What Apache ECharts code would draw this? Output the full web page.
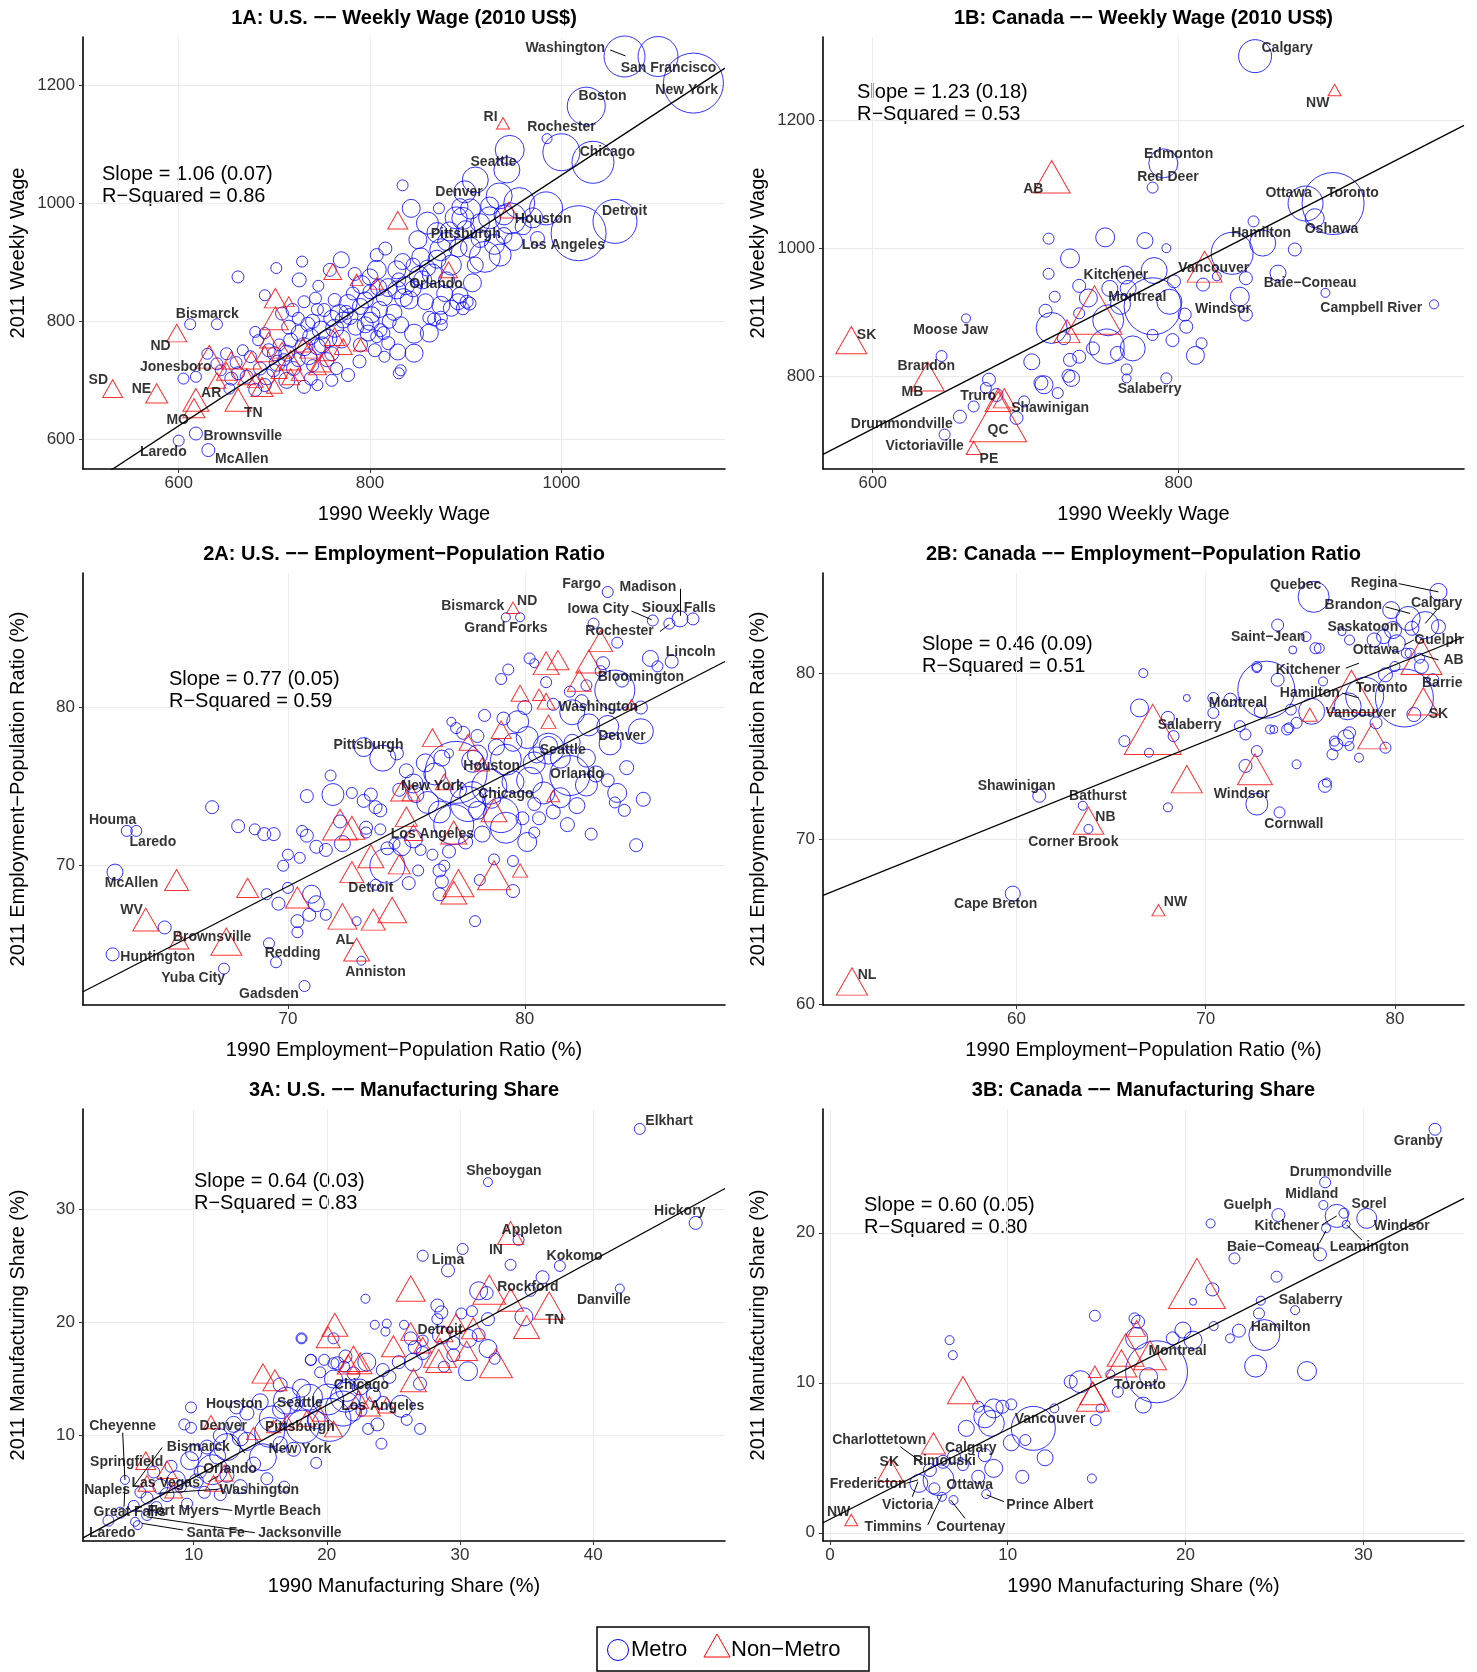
<!DOCTYPE html>
<html><head><meta charset="utf-8">
<script src="https://cdn.jsdelivr.net/npm/echarts@6/dist/echarts.min.js"></script>
<style>html,body{margin:0;padding:0;background:#fff}#c{width:1477px;height:1672px}</style>
</head><body><div id="c"></div>
<script>
// ---------- Panel 1A: U.S. weekly wage ----------
const xt1A = [600, 800, 1000], yt1A = [600, 800, 1000, 1200];
const xr1A = [500, 1171], yr1A = [550, 1281];
const fit1A = [1.06, -13];
const stat1A = ['Slope = 1.06 (0.07)', 'R\u2212Squared = 0.86'];
const m1A = [[1066,1248,41],[1101,1248,40],[1138,1203,60],[1026,1164,38],[985,1109,10],[1000,1086,37],[1033,1069,42],[946,1090,29],[943,1056,26],[834,1030,11],[910,1039,26],[899,1019,22],[935,1012,26],[956,1000,31],[984,991,33],[872,991,11],[894,994,16],[843,991,18],[947,974,31],[1056,969,44],[1018,949,55],[897,974,22],[860,966,22],[883,952,19],[915,966,19],[950,935,18],[920,909,31],[936,912,22],[850,938,18],[874,921,22],[892,924,18],[853,909,18],[816,923,13],[807,912,13],[834,901,16],[807,887,19],[828,887,18],[907,865,18],[878,847,16],[894,844,16],[901,833,13],[874,827,18],[858,833,16],[841,836,18],[828,853,18],[851,877,19],[837,860,18],[819,857,18],[809,857,16],[800,875,16],[791,862,18],[784,880,13],[770,904,16],[758,887,13],[746,860,11],[729,901,11],[726,870,14],[702,890,11],[662,875,12],[690,844,11],[708,813,13],[719,819,13],[731,833,12],[743,839,12],[752,819,13],[763,836,13],[777,830,18],[782,847,13],[795,836,16],[802,811,16],[795,794,16],[811,785,13],[832,794,16],[846,779,19],[875,794,11],[862,806,13],[807,774,12],[829,748,16],[815,740,11],[832,717,11],[830,712,11],[789,732,13],[777,709,13],[772,802,16],[768,813,18],[779,808,16],[763,788,18],[749,785,18],[756,771,18],[745,757,16],[736,740,16],[731,757,18],[738,774,16],[726,780,16],[717,768,14],[713,746,16],[703,729,16],[699,717,13],[694,751,13],[683,768,11],[680,782,11],[690,780,11],[692,706,16],[713,700,16],[731,689,13],[745,692,11],[738,703,13],[671,706,13],[662,712,13],[655,703,13],[667,751,11],[644,717,11],[653,686,11],[680,684,13],[690,692,13],[685,720,13],[605,703,11],[618,706,11],[612,795,11],[640,795,11],[618,610,13],[600,598,11],[631,582,13],[814,780,13],[798,780,16],[819,763,13],[805,751,13],[846,746,18],[867,803,13],[862,780,18],[874,806,13],[892,833,16],[897,822,13],[885,822,16],[904,830,13],[740,800,14],[750,760,16],[760,745,14],[770,770,18],[785,790,16],[790,760,14],[800,800,18],[810,820,16],[820,800,14],[825,815,16],[835,840,18],[845,855,16],[855,870,18],[865,880,20],[880,870,16],[885,895,20],[870,905,18],[860,890,16],[845,895,14],[830,870,14],[815,840,16],[800,850,14],[790,825,16],[775,815,14],[760,805,16],[745,820,12],[735,795,14],[725,805,12],[715,790,14],[705,760,12],[700,745,14],[725,735,14],[740,725,12],[755,735,14],[765,720,12],[710,735,12],[720,720,14],[760,700,12],[675,740,12],[660,730,12],[650,745,12],[640,728,12],[630,745,11],[905,925,20],[915,940,18],[925,975,22],[900,955,18],[910,895,16],[930,930,20],[940,945,16],[880,935,18],[870,950,20],[890,975,22],[905,990,20],[925,995,18],[940,980,20],[960,960,16],[970,975,20],[975,940,14]];
const n1A = [[939,1135,13],[945,988,18],[829,971,20],[882,887,18],[761,884,18],[701,839,22],[715,833,11],[701,805,26],[598,780,20],[632,740,26],[655,734,20],[676,734,20],[671,706,18],[694,768,18],[708,751,18],[717,734,22],[736,751,18],[749,729,20],[763,774,20],[772,757,18],[786,870,13],[807,864,13],[531,686,20],[577,678,22],[618,667,26],[616,653,22],[662,667,26],[687,689,22],[717,706,18],[745,723,18],[650,715,20],[640,700,18],[680,700,16],[730,760,16],[705,715,16],[725,710,14],[755,745,16],[790,760,14],[700,690,16],[690,745,18]];
const lab1A = [['Washington',1004,1262],['San Francisco',1112,1228],['New York',1131,1191],['Boston',1043,1181],['RI',926,1146],['Rochester',1000,1128],['Seattle',929,1069],['Chicago',1048,1086],['Denver',893,1018],['Houston',981,973],['Detroit',1066,987],['Pittsburgh',900,948],['Los Angeles',1002,928],['Orlando',869,863],['Bismarck',630,812],['ND',581,758],['Jonesboro',597,722],['SD',516,700],['NE',561,685],['AR',634,678],['TN',678,644],['MO',599,633],['Brownsville',667,605],['Laredo',584,578],['McAllen',666,566]];
const lead1A = [[1051,1259,1067,1249]];

// ---------- Panel 1B: Canada weekly wage ----------
const xt1B = [600, 800], yt1B = [800, 1000, 1200];
const xr1B = [567.5, 986.6], yr1B = [654, 1331];
const fit1B = [1.23, -21];
const stat1B = ['Slope = 1.23 (0.18)', 'R\u2212Squared = 0.53'];
const m1B = [[850,1301,33],[790,1133,29],[783,1095,11],[901,1070,62],[883,1070,35],[889,1047,19],[849,1042,11],[855,1008,26],[835,992,42],[876,998,13],[825,956,9],[816,943,13],[844,953,13],[865,961,16],[896,930,9],[967,912,9],[840,924,19],[844,896,13],[804,896,13],[797,948,13],[805,877,13],[796,856,13],[815,851,11],[811,832,18],[792,796,11],[783,909,57],[794,916,25],[784,965,26],[778,1012,16],[792,1000,9],[752,1017,19],[715,1015,11],[729,984,19],[715,960,11],[765,958,18],[735,941,13],[741,922,18],[755,937,16],[767,937,16],[719,924,11],[762,912,20],[754,887,31],[735,898,11],[713,902,13],[717,875,31],[725,859,13],[753,846,35],[770,843,25],[783,864,11],[744,843,13],[760,835,14],[735,830,13],[729,825,13],[704,822,16],[766,810,11],[766,796,9],[730,796,16],[728,800,13],[712,786,18],[710,789,14],[721,773,11],[676,794,13],[674,781,11],[681,770,13],[666,752,11],[657,736,13],[647,708,11],[694,734,13],[699,760,11],[645,831,11],[661,890,9]];
const n1B = [[902,1248,13],[717,1112,37],[817,971,35],[586,856,31],[636,799,33],[682,736,57],[682,762,26],[686,765,22],[666,687,15],[727,870,26],[745,903,55]];
const lab1B = [['Calgary',871,1313],['NW',891,1227],['Edmonton',800,1148],['Red Deer',793,1112],['AB',705,1092],['Ottawa',872,1087],['Toronto',914,1087],['Oshawa',900,1030],['Hamilton',854,1023],['Kitchener',759,958],['Vancouver',823,968],['Baie\u2212Comeau',886,945],['Montreal',773,924],['Windsor',829,905],['Campbell River',926,906],['Moose Jaw',651,872],['SK',596,864],['Brandon',635,815],['MB',626,775],['Salaberry',781,779],['Truro',669,768],['Shawinigan',716,749],['Drummondville',619,725],['QC',682,715],['Victoriaville',634,690],['PE',676,669]];
const lead1B = [];

// ---------- Panel 2A: U.S. employment-population ratio ----------
const xt2A = [70, 80], yt2A = [70, 80];
const xr2A = [61.35, 88.45], yr2A = [61.2, 88.5];
const fit2A = [0.77, 14.8];
const stat2A = ['Slope = 0.77 (0.05)', 'R\u2212Squared = 0.59'];
const m2A = [[83.5,87.3,11],[86.1,85.3,11],[86.55,85.6,16],[87.1,85.6,12],[85.4,85.5,11],[82.9,85.3,11],[83.9,84.1,11],[79.2,85.7,9],[79.8,85.7,9],[80.2,83.1,11],[80.4,82.8,9],[79.3,82.4,11],[79.0,81.8,11],[80.9,81.6,11],[81.9,81.0,11],[82.6,81.4,11],[83.2,82.3,11],[85.3,83.1,16],[86.2,82.9,13],[85.6,82.6,11],[83.3,82.8,13],[83.8,81.1,40],[84.1,81.7,13],[84.9,80.0,13],[82.4,80.4,13],[82.0,79.7,25],[82.7,78.9,22],[83.5,78.8,22],[84.9,78.5,25],[83.6,77.7,22],[82.6,76.8,18],[81.0,77.4,31],[81.0,77.6,18],[80.1,78.1,22],[79.7,79.1,22],[79.1,79.3,13],[78.0,78.2,13],[76.9,79.1,9],[77.1,78.7,11],[77.4,78.4,13],[76.8,77.1,9],[77.1,75.9,62],[79.2,76.7,31],[77.8,76.6,22],[80.4,76.5,22],[81.9,75.7,40],[82.6,75.1,22],[83.5,75.4,13],[83.9,74.6,19],[83.8,74.0,11],[80.2,75.4,26],[79.5,75.3,22],[78.5,75.0,35],[77.8,74.5,26],[77.6,73.9,35],[79.0,73.2,35],[78.6,74.2,18],[80.4,73.9,13],[80.6,73.0,13],[79.9,73.0,13],[79.2,72.4,31],[77.0,72.6,40],[76.4,73.4,22],[75.9,74.0,22],[75.3,75.2,19],[75.4,74.5,16],[74.7,74.8,13],[80.1,71.5,19],[80.4,72.1,11],[84.7,71.3,13],[79.5,70.3,11],[79.5,68.4,13],[78.1,69.1,11],[78.7,70.4,11],[77.9,66.5,11],[76.8,70.9,13],[76.4,69.7,13],[76.4,68.2,13],[76.5,69.0,13],[76.6,70.0,11],[76.1,70.7,11],[75.6,71.0,11],[75.5,69.7,11],[74.8,71.2,18],[75.3,71.7,18],[75.1,68.9,13],[74.2,70.0,35],[74.2,71.1,13],[74.5,71.4,11],[73.7,68.8,11],[73.9,72.3,11],[73.3,72.4,13],[73.7,73.7,13],[73.9,73.5,13],[73.5,74.5,13],[73.2,74.1,13],[72.7,74.6,11],[71.9,74.5,22],[71.8,75.7,11],[70.8,74.4,13],[73.2,77.5,19],[74.0,76.8,26],[74.6,77.1,13],[66.8,73.7,13],[67.9,72.5,13],[68.6,72.3,11],[69.0,72.0,13],[69.4,72.0,13],[70.6,72.2,11],[70.8,71.9,13],[71.2,71.2,13],[71.6,71.0,13],[72.3,71.4,16],[72.2,72.8,13],[73.3,72.1,11],[70.0,70.7,11],[70.5,70.5,11],[69.8,70.0,11],[70.0,68.6,11],[69.6,67.6,13],[71.0,68.2,18],[71.2,67.6,16],[70.9,66.9,13],[71.6,66.9,11],[70.4,66.5,13],[70.4,65.8,11],[72.9,66.5,9],[69.1,68.2,11],[69.2,65.1,11],[69.5,63.9,11],[70.7,62.4,11],[67.3,63.5,11],[73.1,64.0,9],[62.6,64.4,13],[64.8,66.1,13],[62.7,69.6,16],[63.2,72.2,11],[63.6,72.2,11],[78.0,77.0,20],[78.8,77.5,16],[79.5,77.8,18],[80.5,77.0,16],[81.5,76.8,20],[82.0,77.8,16],[80.8,74.6,22],[81.5,74.3,20],[82.2,73.8,16],[81.2,73.4,14],[78.0,73.5,18],[77.2,74.8,16],[76.2,75.8,22],[75.8,76.5,18],[76.5,76.8,16],[75.0,76.0,14],[78.2,72.0,16],[77.5,71.5,14],[81.8,72.6,14],[82.8,72.0,12],[83.0,75.8,16],[84.3,76.2,14],[84.2,73.5,12],[85.0,74.2,14],[80.0,80.0,14],[81.2,80.2,12],[78.3,79.5,12]];
const n2A = [[79.5,86.3,13],[83.2,84.2,24],[80.9,82.8,26],[81.4,83.0,22],[82.7,82.9,26],[82.3,81.7,24],[79.8,80.9,18],[80.6,80.8,13],[80.9,80.4,18],[81.0,79.1,15],[79.0,78.6,20],[76.1,78.1,20],[77.6,77.8,18],[84.5,80.2,11],[78.2,76.4,15],[81.2,74.4,13],[74.8,74.7,22],[75.2,74.6,18],[76.6,75.3,18],[78.7,73.5,26],[75.0,73.1,22],[72.2,72.6,35],[72.7,72.4,26],[75.3,72.1,18],[77.0,72.1,26],[73.5,70.6,26],[72.7,69.6,24],[74.7,70.1,22],[77.2,68.9,31],[77.0,68.3,26],[78.7,69.4,33],[79.8,69.7,15],[74.4,67.2,29],[73.6,66.6,24],[72.3,66.8,29],[70.4,68.0,24],[68.3,68.6,22],[65.3,69.1,24],[64.0,66.6,26],[67.4,65.2,31],[65.4,65.3,20],[72.9,64.7,26]];
const lab2A = [['Fargo',82.4,87.8],['Madison',85.2,87.6],['ND',80.1,86.7],['Bismarck',77.8,86.4],['Iowa City',83.1,86.2],['Sioux Falls',86.5,86.3],['Grand Forks',79.2,85.0],['Rochester',84.0,84.8],['Lincoln',87.0,83.5],['Bloomington',84.9,81.9],['Washington',83.1,80.0],['Denver',84.1,78.2],['Pittsburgh',73.4,77.6],['Seattle',81.6,77.3],['Houston',78.6,76.3],['Orlando',82.2,75.8],['New York',76.1,75.0],['Chicago',79.2,74.5],['Houma',62.6,72.9],['Laredo',64.3,71.5],['Los Angeles',76.1,72.0],['McAllen',63.4,68.9],['Detroit',73.5,68.6],['WV',63.4,67.2],['Brownsville',66.8,65.5],['AL',72.4,65.3],['Redding',70.2,64.5],['Huntington',64.5,64.2],['Anniston',73.7,63.3],['Yuba City',66.0,62.9],['Gadsden',69.2,61.9]];
const lead2A = [[86.55,87.5,86.55,85.8],[84.5,86.1,85.35,85.55],[85.7,84.8,86.1,85.25]];

// ---------- Panel 2B: Canada employment-population ratio ----------
const xt2B = [60, 70, 80], yt2B = [60, 70, 80];
const xr2B = [49.77, 83.65], yr2B = [59.98, 86.04];
const fit2B = [0.46, 43.7];
const stat2B = ['Slope = 0.46 (0.09)', 'R\u2212Squared = 0.51'];
const m2B = [[66.7,80.0,9],[69.0,78.5,7],[66.5,77.9,18],[68.0,77.3,13],[68.3,76.2,11],[65.7,75.9,11],[67.0,75.2,9],[70.4,78.5,11],[70.4,77.6,11],[71.3,78.4,13],[73.2,79.0,57],[72.7,80.3,9],[73.8,79.6,13],[72.9,77.7,13],[73.4,76.6,9],[74.3,76.6,11],[71.8,76.8,11],[72.1,76.3,11],[74.8,77.0,11],[75.6,77.7,26],[74.5,77.8,11],[76.2,79.5,9],[74.8,74.5,9],[72.7,75.3,11],[72.1,74.4,13],[72.7,72.1,22],[73.9,71.6,11],[68.0,71.9,9],[76.3,73.2,13],[76.4,73.4,9],[76.7,75.1,11],[76.9,75.7,13],[77.4,76.1,16],[77.6,75.6,9],[78.1,74.9,9],[61.2,72.6,13],[63.5,72.0,9],[63.8,70.6,9],[59.8,66.7,15],[75.7,84.6,31],[82.3,84.9,17],[79.8,83.8,17],[80.7,83.3,24],[81.6,82.9,27],[82.3,82.8,14],[80.9,82.7,14],[79.9,82.6,17],[79.4,82.2,14],[78.9,82.0,14],[77.6,82.0,10],[77.2,82.5,8],[74.6,81.4,8],[76.0,81.5,10],[75.3,82.2,10],[73.8,82.9,12],[75.8,81.5,11],[80.8,81.2,10],[81.3,80.9,10],[80.1,81.8,17],[78.4,78.6,38],[80.5,78.5,58],[77.5,78.0,27],[79.5,79.9,14],[80.0,80.4,10],[81.4,80.4,14],[80.6,81.2,10],[77.6,76.4,12],[76.8,75.9,10],[73.6,76.6,8],[72.7,80.4,10],[74.4,76.7,10],[79.0,77.0,12],[79.5,75.5,11],[82.0,79.6,12],[81.0,77.5,14]];
const n2B = [[67.2,76.6,57],[69.0,73.6,31],[72.6,74.2,35],[63.8,71.1,31],[67.5,65.7,13],[51.3,61.4,31],[81.4,81.0,41],[77.7,78.9,48],[81.5,78.3,31],[78.8,76.2,29],[75.5,77.5,15]];
const lab2B = [['Quebec',74.75,85.3],['Regina',78.9,85.4],['Brandon',77.8,84.1],['Calgary',82.2,84.2],['Saskatoon',78.3,82.8],['Saint\u2212Jean',73.3,82.2],['Guelph',82.3,82.0],['Ottawa',79.0,81.4],['AB',83.1,80.8],['Kitchener',75.4,80.2],['Barrie',82.5,79.4],['Toronto',79.3,79.1],['Hamilton',75.5,78.8],['Montreal',71.7,78.2],['Vancouver',78.2,77.6],['SK',82.3,77.5],['Salaberry',69.15,76.84],['Shawinigan',60.0,73.2],['Bathurst',64.3,72.6],['Windsor',71.9,72.7],['NB',64.7,71.3],['Cornwall',74.66,70.9],['Corner Brook',63.0,69.8],['Cape Breton',58.9,66.04],['NW',68.4,66.2],['NL',52.1,61.8]];
const lead2B = [[80.2,85.4,82.3,84.9],[79.5,84.0,80.8,83.6],[82.2,83.8,81.6,83.0],[81.0,82.0,80.5,81.7],[82.3,80.8,81.4,81.1],[77.4,80.3,78.1,80.6],[77.2,78.8,78.1,78.5]];

// ---------- Panel 3A: U.S. manufacturing share ----------
const xt3A = [10, 20, 30, 40], yt3A = [10, 20, 30];
const xr3A = [1.69, 49.9], yr3A = [0.7, 38.86];
const fit3A = [0.64, -0.1];
const stat3A = ['Slope = 0.64 (0.03)', 'R\u2212Squared = 0.83'];
const m3A = [[43.5,37.1,11],[32.1,32.4,9],[47.7,28.8,13],[34.4,27.3,11],[30.2,26.5,11],[27.2,25.9,11],[29.1,24.6,13],[33.8,25.1,11],[37.5,25.0,11],[36.2,24.0,13],[35.3,22.8,11],[42.0,23.0,9],[31.4,22.8,18],[32.0,22.6,13],[34.8,20.5,18],[32.1,20.3,13],[22.9,22.1,9],[28.3,21.5,13],[28.6,20.9,13],[30.1,20.8,11],[30.9,21.0,11],[28.3,20.3,11],[23.6,19.8,9],[24.5,19.9,9],[25.8,19.8,9],[24.4,19.2,9],[18.1,18.6,9],[20.5,18.6,11],[26.3,18.6,13],[27.2,18.4,11],[28.6,18.9,18],[29.5,18.2,13],[30.6,18.6,18],[31.4,18.9,13],[32.1,17.7,18],[32.6,16.8,11],[30.6,15.7,19],[28.8,16.1,11],[29.5,17.1,13],[26.5,16.5,18],[27.2,17.3,13],[25.4,16.5,13],[26.6,17.8,13],[23.0,16.5,18],[24.2,15.8,13],[24.7,15.2,13],[27.0,14.6,13],[25.6,12.6,22],[24.2,12.9,13],[27.0,10.6,11],[24.1,9.3,11],[23.1,10.6,11],[19.2,7.6,11],[18.8,16.7,11],[19.8,16.7,11],[20.8,16.4,13],[21.4,17.0,13],[22.0,15.5,13],[21.3,16.1,11],[20.5,16.4,11],[19.5,15.6,11],[18.1,14.2,18],[18.7,13.4,26],[17.7,12.8,13],[16.6,12.3,18],[15.9,11.5,26],[20.1,13.2,31],[21.2,12.4,35],[21.5,14.0,22],[20.5,15.0,18],[19.2,11.4,18],[20.2,11.4,43],[18.2,10.8,33],[15.7,10.3,30],[21.4,13.4,30],[17.0,13.1,27],[12.5,9.0,27],[11.4,7.0,30],[15.2,8.1,27],[14.0,9.5,18],[9.7,7.8,18],[8.7,6.1,18],[7.5,5.5,15],[4.84,6.09,9],[13.2,12.5,13],[9.8,12.5,11],[9.3,11.0,11],[9.8,10.7,11],[22.5,14.3,16],[23.5,13.6,14],[22.0,12.0,16],[16.5,14.5,14],[15.0,13.0,16],[14.0,12.0,14],[13.0,11.0,16],[12.0,10.0,14],[11.0,9.0,14],[10.0,8.5,16],[13.5,9.8,16],[16.5,9.3,14],[17.5,8.8,14],[14.5,7.5,14],[12.5,6.5,14],[10.5,6.8,12],[9.0,5.5,12],[8.0,4.8,14],[6.5,4.5,12],[5.5,3.8,11],[4.5,3.2,11],[3.6,2.5,11],[6.5,3.0,11],[7.2,3.7,11],[5.6,2.4,9],[5.8,2.1,9],[12.0,4.8,12],[13.5,5.5,14],[15.5,6.2,12],[16.8,5.5,11],[10.8,5.0,12],[9.5,4.0,11],[22.6,12.2,11],[23.8,11.0,13],[26.0,11.4,11],[18.1,18.6,11],[18.8,16.7,11],[10.2,6.0,14],[11.8,8.2,16],[7.0,6.8,12],[6.0,5.0,11],[8.3,7.3,12]];
const n3A = [[33.8,27.9,26],[26.3,23.0,29],[32.2,22.9,33],[33.8,22.0,26],[36.7,21.5,31],[35.0,19.6,26],[32.7,16.4,33],[20.6,19.8,26],[20.1,18.7,24],[26.3,19.2,20],[25.0,17.9,24],[28.5,17.3,33],[28.4,16.6,26],[27.2,18.0,18],[26.5,14.9,26],[22.0,16.8,29],[22.5,16.4,24],[21.6,16.3,22],[23.2,12.6,22],[15.2,15.5,22],[16.1,14.9,24],[11.3,11.2,15],[6.4,7.8,20],[8.0,7.0,20],[6.5,5.8,18],[8.5,5.2,18],[18.5,11.5,18],[17.0,11.2,16],[16.0,10.8,14],[19.5,11.9,16],[20.5,10.6,18],[14.5,10.2,14],[12.3,6.7,18],[11.5,5.8,18],[22.4,13.2,20],[24.5,12.7,18],[29.7,20.0,20],[31.0,19.5,24],[30.5,17.5,22],[28.8,19.0,18]];
const lab3A = [['Elkhart',45.7,37.8],['Sheboygan',33.3,33.4],['Hickory',46.5,29.8],['Appleton',35.4,28.2],['IN',32.7,26.4],['Kokomo',38.6,25.9],['Lima',29.1,25.5],['Rockford',35.1,23.1],['Danville',40.8,22.0],['TN',37.1,20.2],['Detroit',28.5,19.3],['Chicago',22.6,14.5],['Houston',13.05,12.8],['Seattle',17.98,12.86],['Los Angeles',24.2,12.6],['Cheyenne',4.67,10.86],['Denver',12.22,10.86],['Pittsburgh',17.98,10.74],['Bismarck',10.35,9.03],['New York',17.98,8.8],['Springfield',4.97,7.7],['Orlando',12.73,7.03],['Las Vegas',7.9,5.85],['Naples',3.5,5.2],['Washington',14.93,5.2],['Great Falls',5.2,3.29],['Fort Myers',9.22,3.37],['Myrtle Beach',16.3,3.37],['Laredo',3.89,1.43],['Santa Fe',11.65,1.43],['Jacksonville',17.98,1.43]];
const lead3A = [[4.67,10.27,4.84,6.09],[7.64,8.97,5.47,5.5],[4.84,5.5,4.77,3.73],[12.73,10.21,13.85,8.45],[11.85,6.44,11.1,5.94],[11.85,5.27,7.34,4.92],[11.6,3.6,12.9,3.4],[14.6,1.43,6.47,2.84],[9.22,1.67,6.1,2.26]];

// ---------- Panel 3B: Canada manufacturing share ----------
const xt3B = [0, 10, 20, 30], yt3B = [0, 10, 20];
const xr3B = [-0.39, 35.66], yr3B = [-0.55, 28.25];
const fit3B = [0.60, 0.9];
const stat3B = ['Slope = 0.60 (0.05)', 'R\u2212Squared = 0.80'];
const m3B = [[34.03,26.9,12],[27.85,23.36,11],[27.75,21.85,9],[28.5,21.12,23],[28.91,21.3,10],[29.03,20.56,8],[30.19,20.96,20],[25.22,21.18,13],[27.9,20.3,9],[27.56,18.56,13],[21.41,20.62,9],[22.75,18.29,11],[25.12,17.07,11],[21.51,16.22,13],[20.42,15.4,7],[24.23,15.47,9],[24.13,14.62,11],[26.16,14.84,9],[21.58,13.78,9],[23.0,13.47,13],[22.5,12.96,9],[24.43,13.18,31],[23.94,11.11,22],[26.83,10.78,19],[19.85,13.51,16],[20.42,12.84,18],[19.28,12.96,13],[18.37,10.73,62],[17.25,12.96,22],[17.13,14.29,11],[17.33,14.07,13],[17.92,10.4,18],[17.62,8.51,16],[16.19,9.4,11],[14.9,14.47,11],[14.08,10.07,22],[13.54,10.07,13],[15.77,10.56,9],[14.95,7.51,11],[14.73,3.62,9],[15.22,8.29,9],[12.62,8.29,9],[11.44,6.96,44],[12.1,5.0,16],[10.82,3.73,13],[10.2,8.56,11],[10.99,6.18,11],[10.2,6.0,16],[9.21,8.29,19],[9.08,7.29,26],[8.71,7.73,22],[9.7,8.4,13],[8.34,8.4,11],[7.67,6.96,16],[9.21,4.29,18],[8.71,5.18,13],[8.34,3.73,13],[6.73,12.84,9],[6.91,11.84,9],[6.98,5.07,13],[7.48,4.51,11],[6.36,4.73,13],[5.62,4.18,13],[6.11,3.51,31],[5.0,3.29,18],[5.87,2.96,11],[8.79,2.58,9],[6.95,2.18,9],[6.3,2.4,9]];
const n3B = [[20.64,16.62,57],[17.25,13.62,18],[16.63,12.18,37],[18.0,11.84,33],[16.39,11.29,31],[14.9,10.73,13],[14.78,9.07,33],[14.78,9.29,26],[7.48,9.51,31],[5.82,5.96,24],[3.39,4.18,26],[1.2,0.85,13]];
const lab3B = [['Granby',33.09,26.12],['Drummondville',28.73,24.07],['Midland',27.1,22.56],['Guelph',23.49,21.84],['Sorel',30.32,21.92],['Kitchener',25.69,20.45],['Windsor',32.16,20.45],['Baie\u2212Comeau',24.94,19.07],['Leamington',30.34,19.07],['Salaberry',27.03,15.51],['Hamilton',25.35,13.73],['Montreal',19.55,12.13],['Toronto',17.43,9.84],['Vancouver',12.38,7.58],['Charlottetown',2.77,6.18],['Calgary',7.92,5.67],['SK',3.34,4.69],['Rimouski',6.44,4.78],['Fredericton',2.15,3.24],['Ottawa',7.86,3.2],['Victoria',4.37,1.85],['Prince Albert',12.37,1.85],['NW',0.49,1.4],['Timmins',3.56,0.36],['Courtenay',7.92,0.36]];
const lead3B = [[3.96,5.73,5.25,4.62],[27.66,20.52,28.5,21.12],[27.52,19.3,27.9,20.14],[29.9,19.52,29.06,20.52],[4.3,3.3,4.95,3.52],[4.63,2.4,4.95,3.4],[5.5,0.52,6.3,2.52],[7.6,0.96,6.79,2.18],[9.79,2.07,8.82,2.52]];

// ---------- Layout ----------
const FONT = "'Liberation Sans', Arial, Helvetica, sans-serif";
const GRIDS = [
  {left:83, top:37, width:642, height:432},
  {left:823, top:37, width:641, height:432},
  {left:83, top:573, width:642, height:432},
  {left:823, top:573, width:641, height:432},
  {left:83, top:1109, width:642, height:432},
  {left:823, top:1109, width:641, height:432}
];
const STATPOS = [[19,137],[34,55],[86,106],[99,71],[111,72],[41,96]];

const P = [
  {title:'1A: U.S. \u2212\u2212 Weekly Wage (2010 US$)', m:m1A, n:n1A, lab:lab1A, lead:lead1A, fit:fit1A, stat:stat1A, xr:xr1A, yr:yr1A, xt:xt1A, yt:yt1A, xn:'1990 Weekly Wage', yn:'2011 Weekly Wage'},
  {title:'1B: Canada \u2212\u2212 Weekly Wage (2010 US$)', m:m1B, n:n1B, lab:lab1B, lead:lead1B, fit:fit1B, stat:stat1B, xr:xr1B, yr:yr1B, xt:xt1B, yt:yt1B, xn:'1990 Weekly Wage', yn:'2011 Weekly Wage'},
  {title:'2A: U.S. \u2212\u2212 Employment\u2212Population Ratio', m:m2A, n:n2A, lab:lab2A, lead:lead2A, fit:fit2A, stat:stat2A, xr:xr2A, yr:yr2A, xt:xt2A, yt:yt2A, xn:'1990 Employment\u2212Population Ratio (%)', yn:'2011 Employment\u2212Population Ratio (%)'},
  {title:'2B: Canada \u2212\u2212 Employment\u2212Population Ratio', m:m2B, n:n2B, lab:lab2B, lead:lead2B, fit:fit2B, stat:stat2B, xr:xr2B, yr:yr2B, xt:xt2B, yt:yt2B, xn:'1990 Employment\u2212Population Ratio (%)', yn:'2011 Employment\u2212Population Ratio (%)'},
  {title:'3A: U.S. \u2212\u2212 Manufacturing Share', m:m3A, n:n3A, lab:lab3A, lead:lead3A, fit:fit3A, stat:stat3A, xr:xr3A, yr:yr3A, xt:xt3A, yt:yt3A, xn:'1990 Manufacturing Share (%)', yn:'2011 Manufacturing Share (%)'},
  {title:'3B: Canada \u2212\u2212 Manufacturing Share', m:m3B, n:n3B, lab:lab3B, lead:lead3B, fit:fit3B, stat:stat3B, xr:xr3B, yr:yr3B, xt:xt3B, yt:yt3B, xn:'1990 Manufacturing Share (%)', yn:'2011 Manufacturing Share (%)'}
];

const grid = [], xAxis = [], yAxis = [], series = [], graphic = [];
function axisCommon(ticks){
  return {
    type:'value',
    axisLine:{show:true, onZero:false, lineStyle:{color:'#000', width:1.6}},
    axisTick:{show:true, length:4, customValues:ticks, lineStyle:{color:'#333', width:1}},
    axisLabel:{customValues:ticks, fontFamily:FONT, fontSize:17, color:'#333', formatter:v=>String(v)},
    splitLine:{show:true, lineStyle:{color:'#ebebeb', width:1}},
    nameLocation:'middle',
    nameTextStyle:{fontFamily:FONT, fontSize:20, color:'#000'}
  };
}
P.forEach((p,i)=>{
  const g = GRIDS[i];
  grid.push({left:g.left, top:g.top, width:g.width, height:g.height, containLabel:false});
  const xa = axisCommon(p.xt);
  Object.assign(xa, {gridIndex:i, min:p.xr[0], max:p.xr[1], name:p.xn, nameGap:35});
  xa.axisLabel.margin = 6;
  xAxis.push(xa);
  const ya = axisCommon(p.yt);
  Object.assign(ya, {gridIndex:i, min:p.yr[0], max:p.yr[1], name:p.yn, nameGap:55});
  ya.axisLabel.margin = 8;
  yAxis.push(ya);

  series.push({type:'scatter', name:'Metro', xAxisIndex:i, yAxisIndex:i, data:p.m,
    symbol:'circle', symbolSize:v=>v[2], silent:true, z:2,
    itemStyle:{color:'rgba(0,0,0,0)', borderColor:'#0000ff', borderWidth:1}});
  series.push({type:'scatter', name:'Non-Metro', xAxisIndex:i, yAxisIndex:i, data:p.n,
    symbol:'triangle', symbolSize:v=>[v[2], v[2]*0.88], silent:true, z:3,
    itemStyle:{color:'rgba(0,0,0,0)', borderColor:'#ff0000', borderWidth:1}});
  const b = p.fit[0], a = p.fit[1];
  series.push({type:'line', xAxisIndex:i, yAxisIndex:i, symbol:'none', silent:true, z:4, clip:true,
    data:[[p.xr[0], a + b*p.xr[0]], [p.xr[1], a + b*p.xr[1]]],
    lineStyle:{color:'#000', width:1.3}});
  if (p.lead.length) series.push({type:'lines', coordinateSystem:'cartesian2d', xAxisIndex:i, yAxisIndex:i, silent:true, z:5,
    data:p.lead.map(l=>({coords:[[l[0],l[1]],[l[2],l[3]]]})),
    lineStyle:{color:'#000', width:1, opacity:1}});
  series.push({type:'scatter', xAxisIndex:i, yAxisIndex:i, silent:true, z:6, clip:false,
    data:p.lab.map(l=>({name:l[0], value:[l[1], l[2]]})), symbolSize:1,
    itemStyle:{color:'rgba(0,0,0,0)'},
    label:{show:true, position:'inside', formatter:'{b}', fontFamily:FONT, fontWeight:'bold', fontSize:14, color:'#000'},
    labelLayout:{hideOverlap:false}});

  graphic.push({type:'text', x:g.left + g.width/2, y:g.top - 19, silent:true,
    style:{text:p.title, fontFamily:FONT, fontWeight:'bold', fontSize:20, fill:'#000', align:'center', verticalAlign:'middle'}});
  graphic.push({type:'text', x:g.left + STATPOS[i][0], y:g.top + STATPOS[i][1], silent:true,
    style:{text:p.stat[0], fontFamily:FONT, fontSize:20, fill:'#000', align:'left', verticalAlign:'middle'}});
  graphic.push({type:'text', x:g.left + STATPOS[i][0], y:g.top + STATPOS[i][1] + 22, silent:true,
    style:{text:p.stat[1], fontFamily:FONT, fontSize:20, fill:'#000', align:'left', verticalAlign:'middle'}});
});

// legend box
graphic.push({type:'rect', shape:{x:597, y:1627, width:272, height:44}, silent:true, style:{fill:'#fff', stroke:'#000', lineWidth:1.5}});
graphic.push({type:'circle', shape:{cx:618, cy:1650, r:10.5}, silent:true, style:{fill:'none', stroke:'#0000ff', lineWidth:1}});
graphic.push({type:'text', x:631, y:1650, silent:true, style:{text:'Metro', fontFamily:FONT, fontSize:22, fill:'#000', align:'left', verticalAlign:'middle'}});
graphic.push({type:'polygon', shape:{points:[[704,1657],[730,1657],[717,1634]]}, silent:true, style:{fill:'none', stroke:'#ff0000', lineWidth:1}});
graphic.push({type:'text', x:731, y:1650, silent:true, style:{text:'Non\u2212Metro', fontFamily:FONT, fontSize:22, fill:'#000', align:'left', verticalAlign:'middle'}});

const chart = echarts.init(document.getElementById('c'), null, {renderer:'canvas'});
chart.setOption({animation:false, backgroundColor:'#fff', grid, xAxis, yAxis, series, graphic});
</script></body></html>
